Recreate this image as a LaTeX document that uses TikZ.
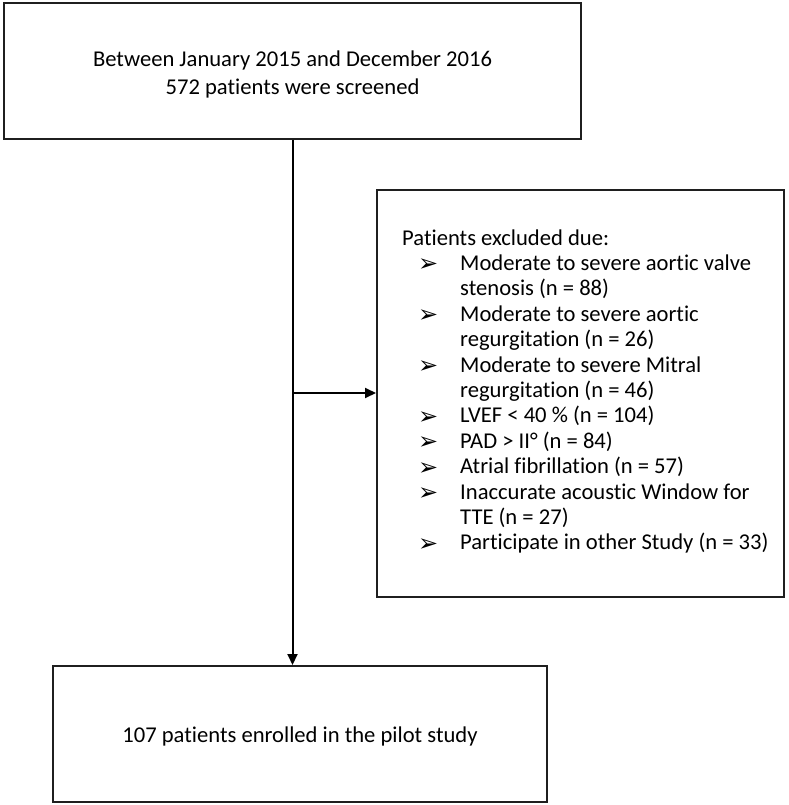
\documentclass[tikz,border=0pt]{standalone}
\usepackage{fontspec}
\setmainfont{Carlito}[Ligatures={NoCommon,NoRare,NoContextual}]
\newfontfamily\symfont{DejaVu Sans}
\usetikzlibrary{arrows.meta}
\begin{document}
\begin{tikzpicture}[x=1pt,y=-1pt,
  box/.style={draw=black!88, line width=2pt, inner sep=0pt},
  btxt/.style={inner sep=0pt, align=center, font=\fontsize{22.6}{28}\selectfont},
  conn/.style={draw=black, line width=2pt, -{Triangle[length=11pt,width=10pt]}},
  txt/.style={font=\fontsize{22.6}{26}\selectfont, inner sep=0pt, anchor=west,
    text height=15pt, text depth=5pt},
  bul/.style={font=\symfont\fontsize{24}{26}\selectfont, inner sep=0pt, anchor=west}]
\useasboundingbox (0,0) rectangle (788,805);
\node[box, minimum width=577pt, minimum height=136pt] (top) at (292.5,71) {};
\node[btxt] (toptext) at (292.5,74)
  {Between January 2015 and December 2016\\572 patients were screened};
\node[box, minimum width=407pt, minimum height=407pt] (excl) at (580.5,393.5) {};
\node[box, minimum width=494pt, minimum height=136pt] (bot) at (300,734) {};
\node[btxt] (bottext) at (300,736) {107 patients enrolled in the pilot study};
\node[txt] (head) at (402,240) {Patients excluded due:};
\def\ls{25.4}
\foreach \i/\t/\b in {1/Moderate to severe aortic valve/1, 2/stenosis (n = 88)/0,
  3/Moderate to severe aortic/1, 4/regurgitation (n = 26)/0,
  5/Moderate to severe Mitral/1, 6/regurgitation (n = 46)/0,
  7/LVEF < 40 \% (n = 104)/1, 8/PAD > II° (n = 84)/1,
  9/Atrial fibrillation (n = 57)/1, 10/Inaccurate acoustic Window for/1,
  11/TTE (n = 27)/0, 12/Participate in other Study (n = 33)/1}{
  \node[txt] (line\i) at (460,240+\i*\ls) {\t};
  \ifnum\b=1 \node[bul] (bul\i) at (418,240+\i*\ls) {➢};\fi
}
\coordinate (j) at (top.south |- 0,393);
\draw[conn] (top.south) -- (top.south |- bot.north);
\draw[conn] (j) -- (j -| excl.west);
\end{tikzpicture}
\end{document}
